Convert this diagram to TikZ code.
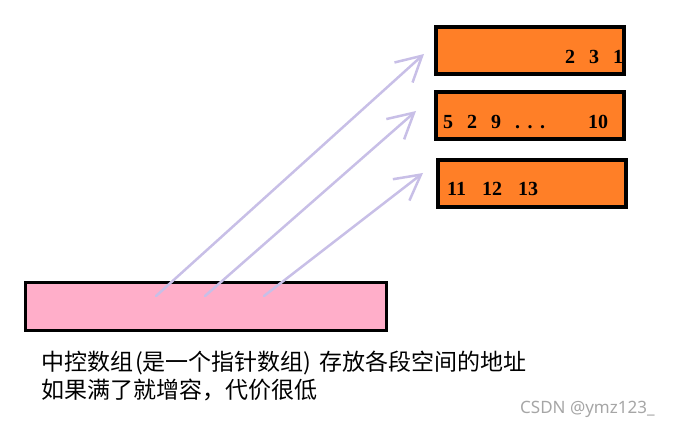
\documentclass[tikz,border=0pt]{standalone}
\usepackage{fontspec}
\setmainfont{Liberation Serif}
\newfontfamily\cjkfont{Noto Sans CJK SC}
\newfontfamily\wmfont{Noto Sans}
\usetikzlibrary{arrows.meta}
\definecolor{segorange}{RGB}{255,127,39}
\definecolor{ctrlpink}{RGB}{255,174,201}
\definecolor{ptrlav}{RGB}{200,191,231}
\tikzstyle{seg}=[draw=black,line width=4pt,fill=segorange,minimum width=188pt,minimum height=47pt,inner sep=0pt]
\tikzstyle{ctrl}=[draw=black,line width=3pt,fill=ctrlpink,minimum width=361pt,minimum height=48pt,inner sep=0pt]
\tikzstyle{ptr}=[ptrlav,line width=2.5pt,line cap=round,-{Straight Barb[length=25pt,width=27pt]}]
\tikzstyle{num}=[anchor=base west,inner sep=0pt,font=\bfseries\fontsize{20}{20}\selectfont]
\tikzstyle{note}=[anchor=base west,inner sep=0pt,font=\cjkfont\fontsize{23}{23}\selectfont]

\begin{document}
\begin{tikzpicture}[x=1pt,y=-1pt]
		\useasboundingbox (0,0) rectangle (687,427);
		\node (seg1) at (530,50.5) [seg] {};
		\node (seg2) at (530,115.5) [seg] {};
		\node (seg3) at (531.5,183.5) [seg] {};
		\node (ctrl) at (205.5,306.3) [ctrl] {};
		
		\node (n1) at (565,64) [num] {2\hspace{14pt}3\hspace{14pt}1};
		\node (n2) at (443,129) [num] {5\hspace{14pt}2\hspace{14pt}9\hspace{14pt}.\hspace{7.5pt}.\hspace{7.5pt}.};
		\node (n2b) at (588,129) [num] {10};
		\node (n3) at (447,196) [num] {11\hspace{16pt}12\hspace{16pt}13};
		
		\coordinate (p1) at (156,296);
		\coordinate (p2) at (205,296);
		\coordinate (p3) at (264,296);
		\coordinate (q1) at (424,54);
		\coordinate (q2) at (416,111);
		\coordinate (q3) at (423,173);
		
		\draw [ptr] (p1)-- (q1);
		\draw [ptr] (p2)-- (q2);
		\draw [ptr] (p3)-- (q3);
		
		\node (note1) at (41,370) [note] {中控数组\hspace{2pt}(是一个指针数组)\hspace{8pt}存放各段空间的地址};
		\node (note2) at (41,398) [note] {如果满了就增容，代价很低};
		\node (mark) at (520,413) [anchor=base west,inner sep=0pt,text=black!35,font=\wmfont\fontsize{17}{17}\selectfont] {CSDN @ymz123\_};
	\end{tikzpicture}
\end{document}
